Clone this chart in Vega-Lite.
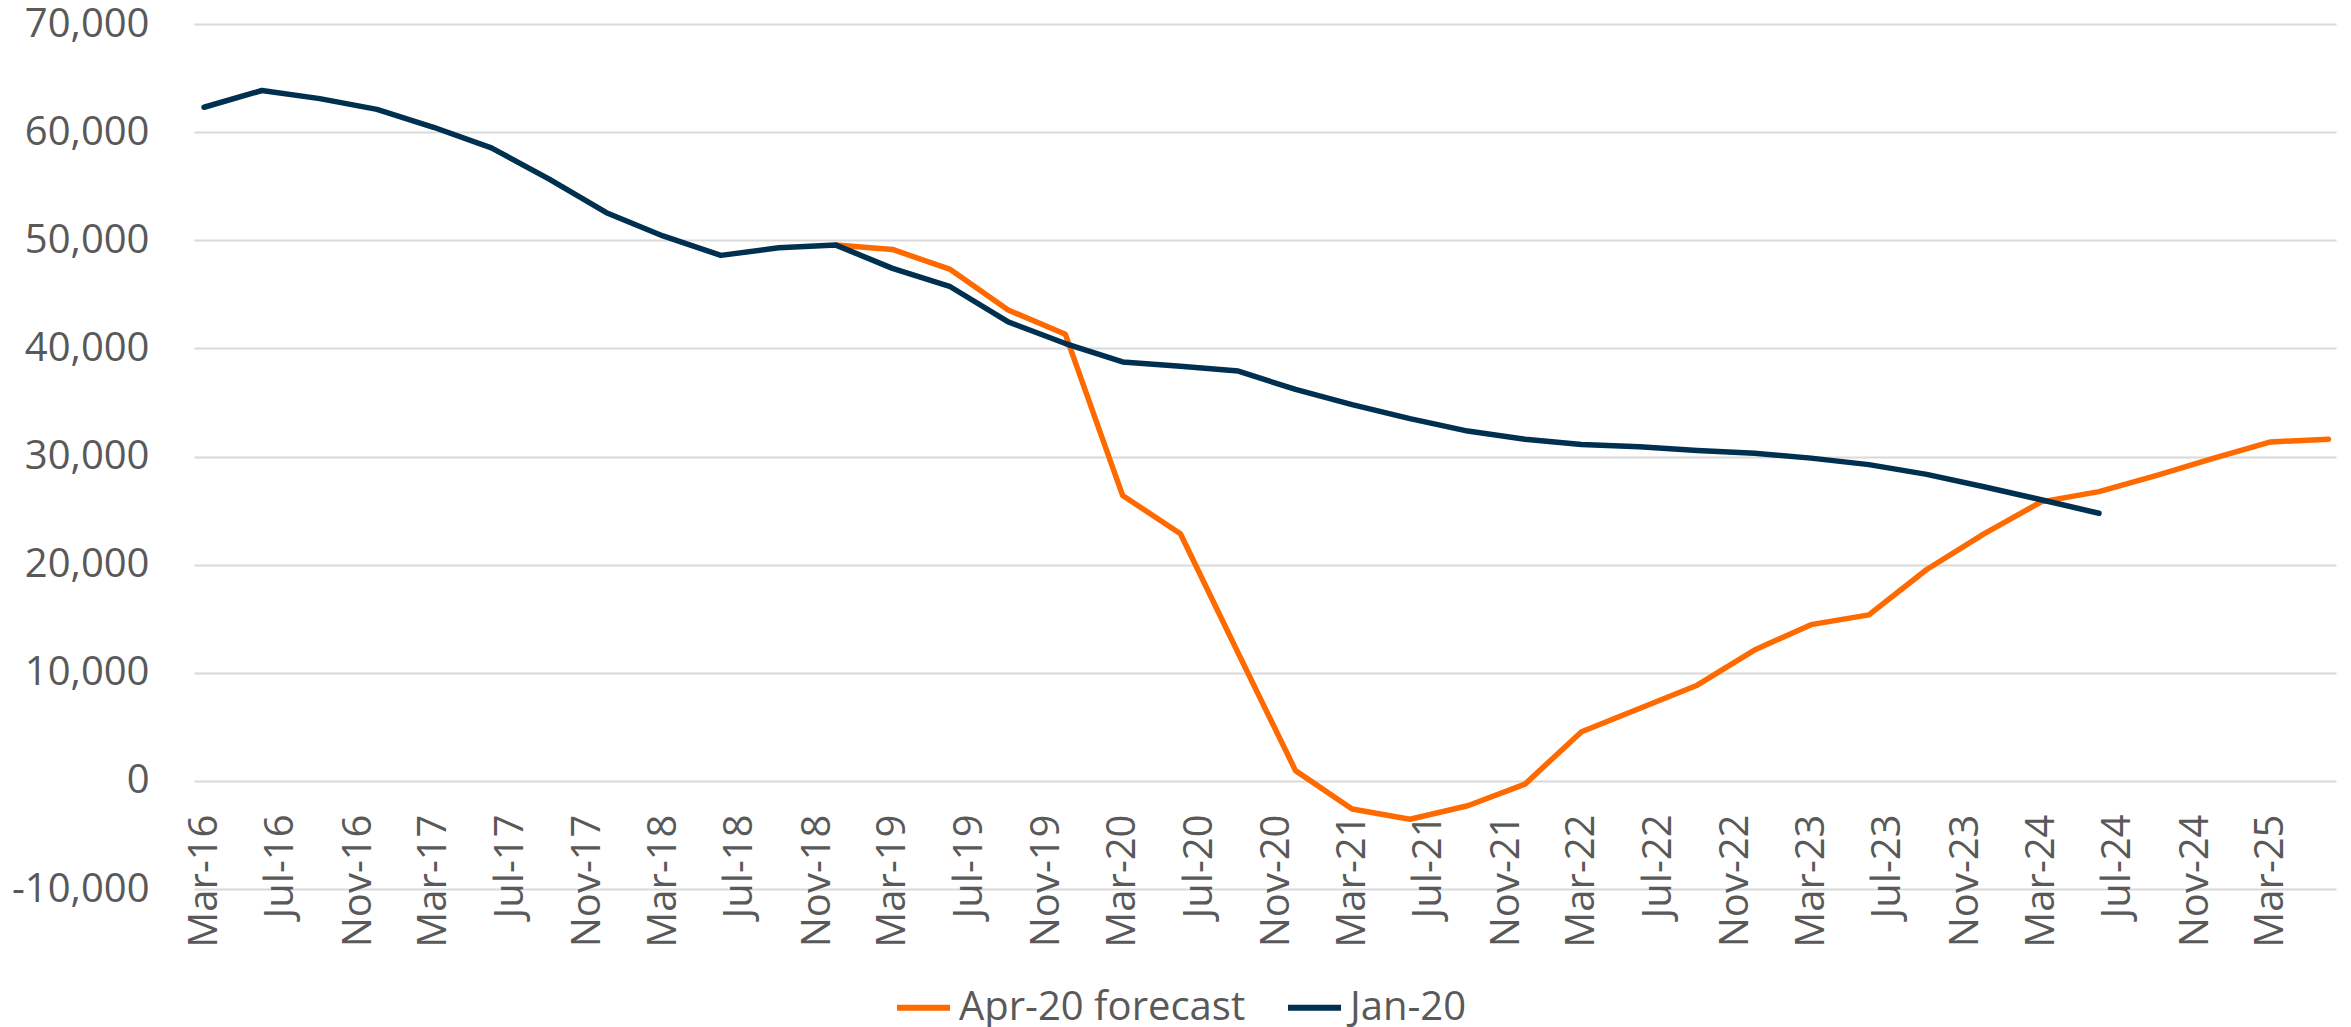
{
  "$schema": "https://vega.github.io/schema/vega-lite/v6.json",
  "autosize": "none",
  "width": 2142,
  "height": 865,
  "padding": {"left": 194, "top": 24, "right": 15, "bottom": 138},
  "background": "white",
  "config": {
    "view": {"stroke": null},
    "font": "Open Sans"
  },
  "data": {
    "values": [
      {"date": "2018-12-01", "series": "Apr-20 forecast", "value": 49550},
      {"date": "2019-03-01", "series": "Apr-20 forecast", "value": 49150},
      {"date": "2019-06-01", "series": "Apr-20 forecast", "value": 47300},
      {"date": "2019-09-01", "series": "Apr-20 forecast", "value": 43550},
      {"date": "2019-12-01", "series": "Apr-20 forecast", "value": 41300},
      {"date": "2020-03-01", "series": "Apr-20 forecast", "value": 26400},
      {"date": "2020-06-01", "series": "Apr-20 forecast", "value": 22850},
      {"date": "2020-09-01", "series": "Apr-20 forecast", "value": 11800},
      {"date": "2020-12-01", "series": "Apr-20 forecast", "value": 950},
      {"date": "2021-03-01", "series": "Apr-20 forecast", "value": -2600},
      {"date": "2021-06-01", "series": "Apr-20 forecast", "value": -3550},
      {"date": "2021-09-01", "series": "Apr-20 forecast", "value": -2300},
      {"date": "2021-12-01", "series": "Apr-20 forecast", "value": -300},
      {"date": "2022-03-01", "series": "Apr-20 forecast", "value": 4550},
      {"date": "2022-06-01", "series": "Apr-20 forecast", "value": 6700},
      {"date": "2022-09-01", "series": "Apr-20 forecast", "value": 8850},
      {"date": "2022-12-01", "series": "Apr-20 forecast", "value": 12100},
      {"date": "2023-03-01", "series": "Apr-20 forecast", "value": 14450},
      {"date": "2023-06-01", "series": "Apr-20 forecast", "value": 15350},
      {"date": "2023-09-01", "series": "Apr-20 forecast", "value": 19550},
      {"date": "2023-12-01", "series": "Apr-20 forecast", "value": 22850},
      {"date": "2024-03-01", "series": "Apr-20 forecast", "value": 25800},
      {"date": "2024-06-01", "series": "Apr-20 forecast", "value": 26750},
      {"date": "2024-09-01", "series": "Apr-20 forecast", "value": 28250},
      {"date": "2024-12-01", "series": "Apr-20 forecast", "value": 29850},
      {"date": "2025-03-01", "series": "Apr-20 forecast", "value": 31350},
      {"date": "2025-06-01", "series": "Apr-20 forecast", "value": 31600},
      {"date": "2016-03-01", "series": "Jan-20", "value": 62300},
      {"date": "2016-06-01", "series": "Jan-20", "value": 63850},
      {"date": "2016-09-01", "series": "Jan-20", "value": 63100},
      {"date": "2016-12-01", "series": "Jan-20", "value": 62100},
      {"date": "2017-03-01", "series": "Jan-20", "value": 60450},
      {"date": "2017-06-01", "series": "Jan-20", "value": 58550},
      {"date": "2017-09-01", "series": "Jan-20", "value": 55650},
      {"date": "2017-12-01", "series": "Jan-20", "value": 52550},
      {"date": "2018-03-01", "series": "Jan-20", "value": 50400},
      {"date": "2018-06-01", "series": "Jan-20", "value": 48600},
      {"date": "2018-09-01", "series": "Jan-20", "value": 49300},
      {"date": "2018-12-01", "series": "Jan-20", "value": 49550},
      {"date": "2019-03-01", "series": "Jan-20", "value": 47400},
      {"date": "2019-06-01", "series": "Jan-20", "value": 45700},
      {"date": "2019-09-01", "series": "Jan-20", "value": 42450},
      {"date": "2019-12-01", "series": "Jan-20", "value": 40450},
      {"date": "2020-03-01", "series": "Jan-20", "value": 38750},
      {"date": "2020-06-01", "series": "Jan-20", "value": 38350},
      {"date": "2020-09-01", "series": "Jan-20", "value": 37900},
      {"date": "2020-12-01", "series": "Jan-20", "value": 36200},
      {"date": "2021-03-01", "series": "Jan-20", "value": 34800},
      {"date": "2021-06-01", "series": "Jan-20", "value": 33500},
      {"date": "2021-09-01", "series": "Jan-20", "value": 32350},
      {"date": "2021-12-01", "series": "Jan-20", "value": 31600},
      {"date": "2022-03-01", "series": "Jan-20", "value": 31100},
      {"date": "2022-06-01", "series": "Jan-20", "value": 30900},
      {"date": "2022-09-01", "series": "Jan-20", "value": 30550},
      {"date": "2022-12-01", "series": "Jan-20", "value": 30300},
      {"date": "2023-03-01", "series": "Jan-20", "value": 29850},
      {"date": "2023-06-01", "series": "Jan-20", "value": 29250},
      {"date": "2023-09-01", "series": "Jan-20", "value": 28350},
      {"date": "2023-12-01", "series": "Jan-20", "value": 27200},
      {"date": "2024-03-01", "series": "Jan-20", "value": 26000},
      {"date": "2024-06-01", "series": "Jan-20", "value": 24750}
    ]
  },
  "mark": {"type": "line", "strokeWidth": 5.5, "strokeJoin": "round", "strokeCap": "round"},
  "encoding": {
    "x": {
      "field": "date",
      "type": "temporal",
      "scale": {
        "type": "utc",
        "domain": [
          {"year": 2016, "month": 2, "date": 14, "utc": true},
          {"year": 2025, "month": 6, "date": 13, "utc": true}
        ]
      },
      "axis": {
        "title": null,
        "values": [
          {"year": 2016, "month": 3, "date": 1, "utc": true},
          {"year": 2016, "month": 7, "date": 1, "utc": true},
          {"year": 2016, "month": 11, "date": 1, "utc": true},
          {"year": 2017, "month": 3, "date": 1, "utc": true},
          {"year": 2017, "month": 7, "date": 1, "utc": true},
          {"year": 2017, "month": 11, "date": 1, "utc": true},
          {"year": 2018, "month": 3, "date": 1, "utc": true},
          {"year": 2018, "month": 7, "date": 1, "utc": true},
          {"year": 2018, "month": 11, "date": 1, "utc": true},
          {"year": 2019, "month": 3, "date": 1, "utc": true},
          {"year": 2019, "month": 7, "date": 1, "utc": true},
          {"year": 2019, "month": 11, "date": 1, "utc": true},
          {"year": 2020, "month": 3, "date": 1, "utc": true},
          {"year": 2020, "month": 7, "date": 1, "utc": true},
          {"year": 2020, "month": 11, "date": 1, "utc": true},
          {"year": 2021, "month": 3, "date": 1, "utc": true},
          {"year": 2021, "month": 7, "date": 1, "utc": true},
          {"year": 2021, "month": 11, "date": 1, "utc": true},
          {"year": 2022, "month": 3, "date": 1, "utc": true},
          {"year": 2022, "month": 7, "date": 1, "utc": true},
          {"year": 2022, "month": 11, "date": 1, "utc": true},
          {"year": 2023, "month": 3, "date": 1, "utc": true},
          {"year": 2023, "month": 7, "date": 1, "utc": true},
          {"year": 2023, "month": 11, "date": 1, "utc": true},
          {"year": 2024, "month": 3, "date": 1, "utc": true},
          {"year": 2024, "month": 7, "date": 1, "utc": true},
          {"year": 2024, "month": 11, "date": 1, "utc": true},
          {"year": 2025, "month": 3, "date": 1, "utc": true}
        ],
        "labelExpr": "utcFormat(datum.value, '%b-%y')",
        "labelAngle": -90,
        "labelAlign": "right",
        "labelBaseline": "middle",
        "labelFontSize": 40,
        "labelFont": "Open Sans",
        "labelColor": "#595959",
        "labelPadding": 33,
        "labelOverlap": false,
        "labelFlush": false,
        "labelLimit": 0,
        "offset": -108,
        "domain": false,
        "ticks": false,
        "grid": false
      }
    },
    "y": {
      "field": "value",
      "type": "quantitative",
      "scale": {"domain": [-10000, 70000], "nice": false, "zero": false},
      "axis": {
        "title": null,
        "values": [-10000, 0, 10000, 20000, 30000, 40000, 50000, 60000, 70000],
        "labelExpr": "(datum.value < 0 ? '-' : '') + format(abs(datum.value), ',')",
        "labelFontSize": 40,
        "labelFont": "Open Sans",
        "labelColor": "#595959",
        "labelPadding": 45,
        "labelBaseline": "middle",
        "labelLimit": 0,
        "domain": false,
        "ticks": false,
        "grid": true,
        "gridColor": "#D9D9D9",
        "gridWidth": 2
      }
    },
    "color": {
      "field": "series",
      "type": "nominal",
      "scale": {"domain": ["Apr-20 forecast", "Jan-20"], "range": ["#FF6A00", "#00304F"]},
      "legend": {
        "title": null,
        "orient": "none",
        "direction": "horizontal",
        "legendX": 700,
        "legendY": 954,
        "padding": 0,
        "symbolType": "stroke",
        "symbolSize": 2809,
        "symbolStrokeWidth": 6,
        "labelFontSize": 40,
        "labelFont": "Open Sans",
        "labelColor": "#595959",
        "labelOffset": 6,
        "labelLimit": 0,
        "columnPadding": 30
      }
    }
  }
}
